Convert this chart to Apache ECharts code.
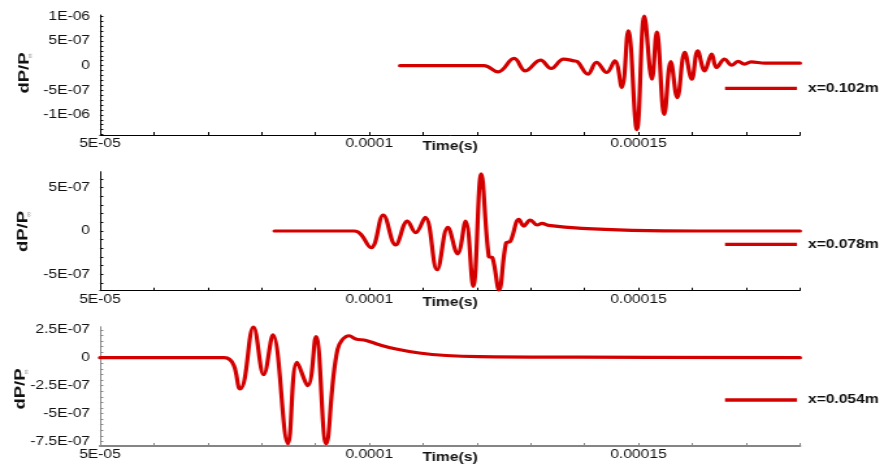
<!DOCTYPE html>
<html>
<head>
<meta charset="utf-8">
<script src="https://cdn.jsdelivr.net/npm/echarts@6/dist/echarts.min.js"></script>
<style>
  html, body { margin: 0; padding: 0; background: #fff; overflow: hidden; }
  /* the plot is laid out narrow and widened horizontally, giving the wide lettering */
  #chart { width: 680px; height: 465px; transform: scaleX(1.3); transform-origin: 0 0; }
</style>
</head>
<body>
<div id="chart"></div>
<script>
// Pressure fluctuation dP/P∞ against time at three probe stations.

// Time axis ticks and their labels (s)
const timeTicks = [5e-5, 1e-4, 1.5e-4];
const timeTickLabels = ['5E-05', '0.0001', '0.00015'];

// Probe x = 0.102 m
const time102 = [105.7e-6, 121.3e-6, 123.9e-6, 126.9e-6, 129.0e-6, 131.8e-6, 133.8e-6, 136.1e-6, 138.0e-6, 138.7e-6,
  140.6e-6, 142.2e-6, 144.1e-6, 145.6e-6, 146.9e-6, 148.1e-6, 149.7e-6, 151.1e-6, 152.5e-6, 153.4e-6,
  154.8e-6, 156.0e-6, 157.2e-6, 158.6e-6, 159.9e-6, 161.0e-6, 162.3e-6, 163.6e-6, 164.5e-6, 166.0e-6,
  167.3e-6, 168.5e-6, 169.7e-6, 170.9e-6, 173.5e-6, 180.0e-6];
const dp102 = [0, 0, -1.26e-7, 1.47e-7, -1.06e-7, 1.12e-7, -0.57e-7, 1.33e-7, 0.98e-7, 0.78e-7,
  -1.73e-7, 0.65e-7, -1.39e-7, 0.98e-7, -4.45e-7, 7.1e-7, -13.0e-7, 10.1e-7, -2.75e-7, 6.8e-7,
  -9.9e-7, 0.8e-7, -6.5e-7, 2.7e-7, -2.75e-7, 3.0e-7, -1.06e-7, 2.35e-7, -0.37e-7, 1.33e-7,
  0.1e-7, 0.86e-7, 0.3e-7, 0.78e-7, 0.5e-7, 0.5e-7];
const yTicks102 = [-1e-6, -5e-7, 0, 5e-7, 1e-6];
const yTickLabels102 = ['-1E-06', '-5E-07', '0', '5E-07', '1E-06'];

// Probe x = 0.078 m
const time078 = [82.4e-6, 97.2e-6, 100.3e-6, 102.6e-6, 104.9e-6, 107.1e-6, 108.6e-6, 110.4e-6, 112.6e-6, 114.6e-6,
  116.4e-6, 117.9e-6, 119.3e-6, 120.8e-6, 122.2e-6, 122.9e-6, 124.1e-6, 125.4e-6, 126.2e-6, 127.8e-6,
  128.7e-6, 129.9e-6, 131.2e-6, 132.1e-6, 133.3e-6, 139.5e-6, 148.8e-6, 161.1e-6, 180.0e-6];
const dp078 = [0, 0, -1.92e-7, 1.84e-7, -1.61e-7, 1.15e-7, -0.2e-7, 1.57e-7, -4.48e-7, 0.42e-7,
  -2.64e-7, 1.15e-7, -6.4e-7, 6.6e-7, -2.95e-7, -3.1e-7, -6.8e-7, -1.4e-7, -1.2e-7, 1.34e-7,
  0.57e-7, 1.26e-7, 0.69e-7, 0.88e-7, 0.65e-7, 0.3e-7, 0.08e-7, 0, 0];
const yTicks078 = [-5e-7, 0, 5e-7];
const yTickLabels078 = ['-5E-07', '0', '5E-07'];

// Probe x = 0.054 m
const time054 = [50.0e-6, 73.1e-6, 76.0e-6, 78.5e-6, 80.4e-6, 82.1e-6, 84.9e-6, 86.6e-6, 88.6e-6, 90.1e-6,
  92.0e-6, 94.1e-6, 96.3e-6, 97.5e-6, 99.4e-6, 101.9e-6, 105.0e-6, 109.3e-6, 114.3e-6, 120.4e-6,
  138.9e-6, 180.0e-6];
const dp054 = [0, 0, -2.8e-7, 2.75e-7, -1.52e-7, 2.06e-7, -7.7e-7, -0.42e-7, -2.5e-7, 1.9e-7,
  -7.7e-7, 0.72e-7, 1.97e-7, 1.68e-7, 1.55e-7, 1.16e-7, 0.78e-7, 0.42e-7, 0.2e-7, 0.1e-7,
  0.05e-7, 0];
const yTicks054 = [-7.5e-7, -5e-7, -2.5e-7, 0, 2.5e-7];
const yTickLabels054 = ['-7.5E-07', '-5E-07', '-2.5E-07', '0', '2.5E-07'];

const seriesNames = ['x=0.102m', 'x=0.078m', 'x=0.054m'];

// ---- layout (page pixels, divided by the horizontal stretch) ----
const SX = 1.3;
const X = v => v / SX;
const RED = '#d40000';
const FONT = '"Liberation Sans", Arial, sans-serif';

const panels = [
  { name: seriesNames[0], t: time102, v: dp102, yMin: -1.41e-6, yMax: 1.03e-6,
    yTicks: yTicks102, yLabels: yTickLabels102, minorFrom: -14, minorTo: 10, minorStep: 1e-7,
    top: 15, height: 120, axisColor: '#000', xAxisWidth: 1, legendY: 88.3, nameX: 25, nameY: 73 },
  { name: seriesNames[1], t: time078, v: dp078, yMin: -6.9e-7, yMax: 6.85e-7,
    yTicks: yTicks078, yLabels: yTickLabels078, minorFrom: -6, minorTo: 6, minorStep: 1e-7,
    top: 171.7, height: 119, axisColor: '#000', xAxisWidth: 1, legendY: 244.3, nameX: 23.3, nameY: 231.5 },
  { name: seriesNames[2], t: time054, v: dp054, yMin: -7.91e-7, yMax: 2.78e-7,
    yTicks: yTicks054, yLabels: yTickLabels054, minorFrom: -15, minorTo: 5, minorStep: 5e-8,
    top: 326.7, height: 119.3, axisColor: '#858585', xAxisWidth: 2, legendY: 400, nameX: 21.5, nameY: 389 }
];

function lookupLabel(values, labels) {
  return function (val) {
    for (let i = 0; i < values.length; i++) {
      if (Math.abs(values[i] - val) < 1e-12) return labels[i];
    }
    return '';
  };
}

const timeMinor = [];
for (let k = 5; k <= 18; k++) timeMinor.push(k * 1e-5);

const grid = [], xAxis = [], yAxis = [], series = [], legend = [], graphic = [];

panels.forEach((p, i) => {
  grid.push({ left: X(100), top: p.top, width: X(700), height: p.height, outerBoundsMode: 'none' });

  xAxis.push({
    gridIndex: i, type: 'value', min: 5e-5, max: 1.8e-4,
    name: 'Time(s)', nameLocation: 'middle', nameGap: 5, nameMoveOverlap: false,
    nameTextStyle: { fontFamily: FONT, fontWeight: 'bold', fontSize: 12, color: '#111', verticalAlign: 'top', lineHeight: 14 },
    axisLine: { show: true, onZero: false, lineStyle: { color: p.axisColor, width: p.xAxisWidth } },
    axisTick: { show: true, inside: true, length: 3, customValues: timeMinor, lineStyle: { color: p.axisColor } },
    axisLabel: { customValues: timeTicks, formatter: lookupLabel(timeTicks, timeTickLabels),
      margin: 3, fontFamily: FONT, fontSize: 12, color: '#111' },
    splitLine: { show: false }
  });

  const yMinor = [];
  for (let k = p.minorFrom; k <= p.minorTo; k++) yMinor.push(k * p.minorStep);

  yAxis.push({
    gridIndex: i, type: 'value', min: p.yMin, max: p.yMax,
    axisLine: { show: true, onZero: false, lineStyle: { color: p.axisColor, width: 1 } },
    axisTick: { show: true, inside: true, length: 2.5, customValues: yMinor, lineStyle: { color: p.axisColor } },
    axisLabel: { customValues: p.yTicks, formatter: lookupLabel(p.yTicks, p.yLabels),
      margin: X(10), fontFamily: FONT, fontSize: 12, color: '#111' },
    splitLine: { show: false }
  });

  series.push({
    name: p.name, type: 'line', xAxisIndex: i, yAxisIndex: i,
    data: p.t.map((t, j) => [t, p.v[j]]),
    showSymbol: false, smooth: 0.4, clip: true,
    lineStyle: { color: RED, width: 3.2, cap: 'round', join: 'round' },
    itemStyle: { color: RED }
  });

  legend.push({
    data: [p.name], left: X(725), top: p.legendY - 7, padding: 0, selectedMode: false,
    icon: 'rect', itemWidth: X(72), itemHeight: 3.3,
    textStyle: { fontFamily: FONT, fontWeight: 'bold', fontSize: 12, color: '#111', lineHeight: 14, padding: [0, 0, 0, 3.4] }
  });

  // rotated axis title dP/P∞
  graphic.push({
    type: 'text', x: X(p.nameX), y: p.nameY, rotation: Math.PI / 2, scaleX: 1.85,
    style: { text: 'dP/P', font: 'bold 10px ' + FONT, fill: '#111', align: 'center', verticalAlign: 'middle' }
  });
  graphic.push({
    type: 'text', x: X(p.nameX + 5), y: p.nameY - 17, rotation: Math.PI / 2,
    style: { text: '∞', font: '6.5px ' + FONT, fill: '#999', align: 'center', verticalAlign: 'middle' }
  });
});

const chart = echarts.init(document.getElementById('chart'), null, { renderer: 'canvas' });
chart.setOption({
  animation: false,
  backgroundColor: '#fff',
  grid, xAxis, yAxis, series, legend, graphic
});
</script>
</body>
</html>
